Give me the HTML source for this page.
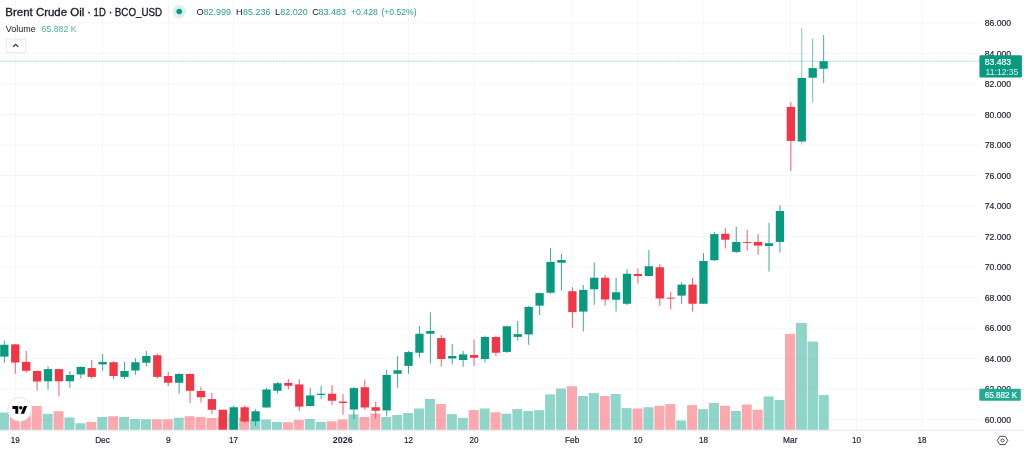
<!DOCTYPE html>
<html lang="en"><head><meta charset="utf-8"><title>Brent Crude Oil · 1D · BCO_USD</title>
<style>
html,body{margin:0;padding:0;background:#ffffff;}
body{width:1024px;height:449px;overflow:hidden;position:relative;font-family:"Liberation Sans",Arial,sans-serif;}
svg text{white-space:pre;}
</style></head><body>
<svg width="1024" height="449" viewBox="0 0 1024 449" style="position:absolute;left:0;top:0">
<defs><clipPath id="pane"><rect x="0" y="0" width="979.4" height="430.0"/></clipPath></defs>
<g stroke="#f6f6f7" stroke-width="1">
<line x1="15.50" y1="0" x2="15.50" y2="430.0"/>
<line x1="102.50" y1="0" x2="102.50" y2="430.0"/>
<line x1="168.60" y1="0" x2="168.60" y2="430.0"/>
<line x1="233.60" y1="0" x2="233.60" y2="430.0"/>
<line x1="343.40" y1="0" x2="343.40" y2="430.0"/>
<line x1="408.40" y1="0" x2="408.40" y2="430.0"/>
<line x1="474.00" y1="0" x2="474.00" y2="430.0"/>
<line x1="572.40" y1="0" x2="572.40" y2="430.0"/>
<line x1="637.80" y1="0" x2="637.80" y2="430.0"/>
<line x1="703.40" y1="0" x2="703.40" y2="430.0"/>
<line x1="790.40" y1="0" x2="790.40" y2="430.0"/>
<line x1="856.50" y1="0" x2="856.50" y2="430.0"/>
<line x1="922.00" y1="0" x2="922.00" y2="430.0"/>
<line x1="0" y1="419.55" x2="979.4" y2="419.55"/>
<line x1="0" y1="389.04" x2="979.4" y2="389.04"/>
<line x1="0" y1="358.53" x2="979.4" y2="358.53"/>
<line x1="0" y1="328.02" x2="979.4" y2="328.02"/>
<line x1="0" y1="297.51" x2="979.4" y2="297.51"/>
<line x1="0" y1="267.00" x2="979.4" y2="267.00"/>
<line x1="0" y1="236.49" x2="979.4" y2="236.49"/>
<line x1="0" y1="205.98" x2="979.4" y2="205.98"/>
<line x1="0" y1="175.47" x2="979.4" y2="175.47"/>
<line x1="0" y1="144.96" x2="979.4" y2="144.96"/>
<line x1="0" y1="114.45" x2="979.4" y2="114.45"/>
<line x1="0" y1="83.94" x2="979.4" y2="83.94"/>
<line x1="0" y1="53.43" x2="979.4" y2="53.43"/>
<line x1="0" y1="22.92" x2="979.4" y2="22.92"/>
</g>
<g clip-path="url(#pane)">
<rect x="-1.07" y="412.50" width="10.00" height="17.50" fill="rgba(34,171,148,0.5)"/>
<rect x="9.85" y="408.00" width="10.00" height="22.00" fill="rgba(247,82,95,0.5)"/>
<rect x="20.78" y="410.00" width="10.00" height="20.00" fill="rgba(247,82,95,0.5)"/>
<rect x="31.70" y="406.00" width="10.00" height="24.00" fill="rgba(247,82,95,0.5)"/>
<rect x="42.63" y="413.75" width="10.00" height="16.25" fill="rgba(34,171,148,0.5)"/>
<rect x="53.55" y="411.25" width="10.00" height="18.75" fill="rgba(247,82,95,0.5)"/>
<rect x="64.47" y="417.50" width="10.00" height="12.50" fill="rgba(34,171,148,0.5)"/>
<rect x="75.40" y="423.25" width="10.00" height="6.75" fill="rgba(34,171,148,0.5)"/>
<rect x="86.32" y="421.90" width="10.00" height="8.10" fill="rgba(247,82,95,0.5)"/>
<rect x="97.25" y="417.00" width="10.00" height="13.00" fill="rgba(34,171,148,0.5)"/>
<rect x="108.17" y="416.25" width="10.00" height="13.75" fill="rgba(247,82,95,0.5)"/>
<rect x="119.09" y="417.00" width="10.00" height="13.00" fill="rgba(34,171,148,0.5)"/>
<rect x="130.02" y="419.00" width="10.00" height="11.00" fill="rgba(34,171,148,0.5)"/>
<rect x="140.94" y="419.25" width="10.00" height="10.75" fill="rgba(34,171,148,0.5)"/>
<rect x="151.87" y="419.25" width="10.00" height="10.75" fill="rgba(247,82,95,0.5)"/>
<rect x="162.79" y="419.25" width="10.00" height="10.75" fill="rgba(247,82,95,0.5)"/>
<rect x="173.71" y="417.75" width="10.00" height="12.25" fill="rgba(34,171,148,0.5)"/>
<rect x="184.64" y="416.25" width="10.00" height="13.75" fill="rgba(247,82,95,0.5)"/>
<rect x="195.56" y="417.00" width="10.00" height="13.00" fill="rgba(247,82,95,0.5)"/>
<rect x="206.49" y="418.10" width="10.00" height="11.90" fill="rgba(247,82,95,0.5)"/>
<rect x="217.41" y="417.50" width="10.00" height="12.50" fill="rgba(247,82,95,0.5)"/>
<rect x="228.33" y="413.75" width="10.00" height="16.25" fill="rgba(34,171,148,0.5)"/>
<rect x="239.26" y="417.50" width="10.00" height="12.50" fill="rgba(247,82,95,0.5)"/>
<rect x="250.18" y="419.10" width="10.00" height="10.90" fill="rgba(34,171,148,0.5)"/>
<rect x="261.11" y="419.40" width="10.00" height="10.60" fill="rgba(34,171,148,0.5)"/>
<rect x="272.03" y="421.90" width="10.00" height="8.10" fill="rgba(34,171,148,0.5)"/>
<rect x="282.95" y="422.25" width="10.00" height="7.75" fill="rgba(247,82,95,0.5)"/>
<rect x="293.88" y="419.75" width="10.00" height="10.25" fill="rgba(247,82,95,0.5)"/>
<rect x="304.80" y="419.00" width="10.00" height="11.00" fill="rgba(34,171,148,0.5)"/>
<rect x="315.73" y="421.90" width="10.00" height="8.10" fill="rgba(34,171,148,0.5)"/>
<rect x="326.65" y="421.25" width="10.00" height="8.75" fill="rgba(247,82,95,0.5)"/>
<rect x="337.57" y="419.40" width="10.00" height="10.60" fill="rgba(247,82,95,0.5)"/>
<rect x="348.50" y="414.25" width="10.00" height="15.75" fill="rgba(34,171,148,0.5)"/>
<rect x="359.42" y="417.00" width="10.00" height="13.00" fill="rgba(247,82,95,0.5)"/>
<rect x="370.35" y="413.50" width="10.00" height="16.50" fill="rgba(247,82,95,0.5)"/>
<rect x="381.27" y="417.00" width="10.00" height="13.00" fill="rgba(34,171,148,0.5)"/>
<rect x="392.19" y="415.00" width="10.00" height="15.00" fill="rgba(34,171,148,0.5)"/>
<rect x="403.12" y="413.00" width="10.00" height="17.00" fill="rgba(34,171,148,0.5)"/>
<rect x="414.04" y="408.50" width="10.00" height="21.50" fill="rgba(34,171,148,0.5)"/>
<rect x="424.97" y="398.90" width="10.00" height="31.10" fill="rgba(34,171,148,0.5)"/>
<rect x="435.89" y="404.00" width="10.00" height="26.00" fill="rgba(247,82,95,0.5)"/>
<rect x="446.81" y="414.10" width="10.00" height="15.90" fill="rgba(34,171,148,0.5)"/>
<rect x="457.74" y="417.90" width="10.00" height="12.10" fill="rgba(34,171,148,0.5)"/>
<rect x="468.66" y="410.00" width="10.00" height="20.00" fill="rgba(247,82,95,0.5)"/>
<rect x="479.59" y="408.50" width="10.00" height="21.50" fill="rgba(34,171,148,0.5)"/>
<rect x="490.51" y="412.25" width="10.00" height="17.75" fill="rgba(247,82,95,0.5)"/>
<rect x="501.43" y="413.75" width="10.00" height="16.25" fill="rgba(34,171,148,0.5)"/>
<rect x="512.36" y="409.10" width="10.00" height="20.90" fill="rgba(34,171,148,0.5)"/>
<rect x="523.28" y="411.00" width="10.00" height="19.00" fill="rgba(34,171,148,0.5)"/>
<rect x="534.21" y="410.10" width="10.00" height="19.90" fill="rgba(34,171,148,0.5)"/>
<rect x="545.13" y="394.40" width="10.00" height="35.60" fill="rgba(34,171,148,0.5)"/>
<rect x="556.05" y="388.50" width="10.00" height="41.50" fill="rgba(34,171,148,0.5)"/>
<rect x="566.98" y="386.25" width="10.00" height="43.75" fill="rgba(247,82,95,0.5)"/>
<rect x="577.90" y="396.00" width="10.00" height="34.00" fill="rgba(34,171,148,0.5)"/>
<rect x="588.83" y="393.10" width="10.00" height="36.90" fill="rgba(34,171,148,0.5)"/>
<rect x="599.75" y="396.00" width="10.00" height="34.00" fill="rgba(247,82,95,0.5)"/>
<rect x="610.67" y="394.00" width="10.00" height="36.00" fill="rgba(34,171,148,0.5)"/>
<rect x="621.60" y="408.10" width="10.00" height="21.90" fill="rgba(34,171,148,0.5)"/>
<rect x="632.52" y="408.50" width="10.00" height="21.50" fill="rgba(247,82,95,0.5)"/>
<rect x="643.45" y="407.25" width="10.00" height="22.75" fill="rgba(34,171,148,0.5)"/>
<rect x="654.37" y="405.75" width="10.00" height="24.25" fill="rgba(247,82,95,0.5)"/>
<rect x="665.29" y="404.10" width="10.00" height="25.90" fill="rgba(247,82,95,0.5)"/>
<rect x="676.22" y="420.40" width="10.00" height="9.60" fill="rgba(34,171,148,0.5)"/>
<rect x="687.14" y="405.10" width="10.00" height="24.90" fill="rgba(247,82,95,0.5)"/>
<rect x="698.07" y="409.10" width="10.00" height="20.90" fill="rgba(34,171,148,0.5)"/>
<rect x="708.99" y="403.00" width="10.00" height="27.00" fill="rgba(34,171,148,0.5)"/>
<rect x="719.91" y="405.75" width="10.00" height="24.25" fill="rgba(247,82,95,0.5)"/>
<rect x="730.84" y="411.00" width="10.00" height="19.00" fill="rgba(34,171,148,0.5)"/>
<rect x="741.76" y="404.50" width="10.00" height="25.50" fill="rgba(247,82,95,0.5)"/>
<rect x="752.69" y="409.75" width="10.00" height="20.25" fill="rgba(247,82,95,0.5)"/>
<rect x="763.61" y="396.40" width="10.00" height="33.60" fill="rgba(34,171,148,0.5)"/>
<rect x="774.53" y="400.00" width="10.00" height="30.00" fill="rgba(34,171,148,0.5)"/>
<rect x="785.00" y="333.90" width="10.25" height="96.10" fill="rgba(247,82,95,0.5)"/>
<rect x="796.00" y="322.90" width="10.90" height="107.10" fill="rgba(34,171,148,0.5)"/>
<rect x="807.50" y="341.60" width="10.50" height="88.40" fill="rgba(34,171,148,0.5)"/>
<rect x="818.75" y="395.00" width="10.00" height="35.00" fill="rgba(34,171,148,0.5)"/>
<rect x="3.83" y="340.50" width="1" height="22.25" fill="#089981" opacity="0.80"/>
<rect x="0.18" y="344.75" width="8.30" height="11.85" fill="#089981"/>
<rect x="14.75" y="344.00" width="1" height="29.75" fill="#f23645" opacity="0.80"/>
<rect x="11.10" y="344.40" width="8.30" height="18.10" fill="#f23645"/>
<rect x="25.68" y="351.00" width="1" height="21.50" fill="#f23645" opacity="0.80"/>
<rect x="22.03" y="361.90" width="8.30" height="8.85" fill="#f23645"/>
<rect x="36.60" y="370.50" width="1" height="20.10" fill="#f23645" opacity="0.80"/>
<rect x="32.95" y="371.00" width="8.30" height="10.50" fill="#f23645"/>
<rect x="47.53" y="366.25" width="1" height="23.50" fill="#089981" opacity="0.80"/>
<rect x="43.88" y="369.10" width="8.30" height="12.15" fill="#089981"/>
<rect x="58.45" y="369.00" width="1" height="27.25" fill="#f23645" opacity="0.80"/>
<rect x="54.80" y="369.10" width="8.30" height="12.15" fill="#f23645"/>
<rect x="69.37" y="371.25" width="1" height="16.50" fill="#089981" opacity="0.80"/>
<rect x="65.72" y="375.00" width="8.30" height="6.25" fill="#089981"/>
<rect x="80.30" y="366.50" width="1" height="12.00" fill="#089981" opacity="0.80"/>
<rect x="76.65" y="366.90" width="8.30" height="7.50" fill="#089981"/>
<rect x="91.22" y="360.00" width="1" height="18.75" fill="#f23645" opacity="0.80"/>
<rect x="87.57" y="368.10" width="8.30" height="8.80" fill="#f23645"/>
<rect x="102.15" y="354.00" width="1" height="16.60" fill="#089981" opacity="0.80"/>
<rect x="98.50" y="361.90" width="8.30" height="2.50" fill="#089981"/>
<rect x="113.07" y="361.25" width="1" height="17.75" fill="#f23645" opacity="0.80"/>
<rect x="109.42" y="362.25" width="8.30" height="13.75" fill="#f23645"/>
<rect x="123.99" y="361.90" width="1" height="17.10" fill="#089981" opacity="0.80"/>
<rect x="120.34" y="371.00" width="8.30" height="5.90" fill="#089981"/>
<rect x="134.92" y="358.10" width="1" height="16.65" fill="#089981" opacity="0.80"/>
<rect x="131.27" y="362.25" width="8.30" height="8.25" fill="#089981"/>
<rect x="145.84" y="351.00" width="1" height="15.50" fill="#089981" opacity="0.80"/>
<rect x="142.19" y="356.00" width="8.30" height="6.75" fill="#089981"/>
<rect x="156.77" y="353.50" width="1" height="25.25" fill="#f23645" opacity="0.80"/>
<rect x="153.12" y="355.25" width="8.30" height="21.65" fill="#f23645"/>
<rect x="167.69" y="372.00" width="1" height="14.00" fill="#f23645" opacity="0.80"/>
<rect x="164.04" y="376.00" width="8.30" height="6.75" fill="#f23645"/>
<rect x="178.61" y="373.25" width="1" height="20.50" fill="#089981" opacity="0.80"/>
<rect x="174.96" y="374.00" width="8.30" height="8.75" fill="#089981"/>
<rect x="189.54" y="373.25" width="1" height="29.85" fill="#f23645" opacity="0.80"/>
<rect x="185.89" y="374.00" width="8.30" height="16.80" fill="#f23645"/>
<rect x="200.46" y="386.90" width="1" height="15.60" fill="#f23645" opacity="0.80"/>
<rect x="196.81" y="391.00" width="8.30" height="6.25" fill="#f23645"/>
<rect x="211.39" y="392.90" width="1" height="21.10" fill="#f23645" opacity="0.80"/>
<rect x="207.74" y="399.10" width="8.30" height="10.65" fill="#f23645"/>
<rect x="222.31" y="409.75" width="1" height="26.25" fill="#f23645" opacity="0.80"/>
<rect x="218.66" y="409.75" width="8.30" height="26.25" fill="#f23645"/>
<rect x="233.23" y="406.00" width="1" height="30.00" fill="#089981" opacity="0.80"/>
<rect x="229.58" y="407.25" width="8.30" height="28.75" fill="#089981"/>
<rect x="244.16" y="405.50" width="1" height="17.25" fill="#f23645" opacity="0.80"/>
<rect x="240.51" y="407.25" width="8.30" height="14.25" fill="#f23645"/>
<rect x="255.08" y="409.10" width="1" height="16.65" fill="#089981" opacity="0.80"/>
<rect x="251.43" y="411.25" width="8.30" height="10.00" fill="#089981"/>
<rect x="266.01" y="387.90" width="1" height="19.60" fill="#089981" opacity="0.80"/>
<rect x="262.36" y="389.50" width="8.30" height="18.00" fill="#089981"/>
<rect x="276.93" y="382.00" width="1" height="11.50" fill="#089981" opacity="0.80"/>
<rect x="273.28" y="383.25" width="8.30" height="7.50" fill="#089981"/>
<rect x="287.85" y="379.10" width="1" height="10.40" fill="#f23645" opacity="0.80"/>
<rect x="284.20" y="382.90" width="8.30" height="2.85" fill="#f23645"/>
<rect x="298.78" y="379.10" width="1" height="31.90" fill="#f23645" opacity="0.80"/>
<rect x="295.13" y="384.40" width="8.30" height="22.20" fill="#f23645"/>
<rect x="309.70" y="387.90" width="1" height="18.60" fill="#089981" opacity="0.80"/>
<rect x="306.05" y="395.40" width="8.30" height="10.60" fill="#089981"/>
<rect x="320.63" y="385.75" width="1" height="13.35" fill="#089981" opacity="0.80"/>
<rect x="316.98" y="393.75" width="8.30" height="1.25" fill="#089981"/>
<rect x="331.55" y="385.00" width="1" height="20.00" fill="#f23645" opacity="0.80"/>
<rect x="327.90" y="393.75" width="8.30" height="7.00" fill="#f23645"/>
<rect x="342.47" y="394.10" width="1" height="20.65" fill="#f23645" opacity="0.80"/>
<rect x="338.82" y="401.60" width="8.30" height="1.40" fill="#f23645"/>
<rect x="353.40" y="387.00" width="1" height="32.10" fill="#089981" opacity="0.80"/>
<rect x="349.75" y="388.10" width="8.30" height="21.40" fill="#089981"/>
<rect x="364.32" y="379.75" width="1" height="30.00" fill="#f23645" opacity="0.80"/>
<rect x="360.67" y="387.25" width="8.30" height="20.25" fill="#f23645"/>
<rect x="375.25" y="401.60" width="1" height="16.90" fill="#f23645" opacity="0.80"/>
<rect x="371.60" y="407.25" width="8.30" height="3.50" fill="#f23645"/>
<rect x="386.17" y="369.75" width="1" height="46.50" fill="#089981" opacity="0.80"/>
<rect x="382.52" y="375.00" width="8.30" height="35.40" fill="#089981"/>
<rect x="397.09" y="356.00" width="1" height="31.75" fill="#089981" opacity="0.80"/>
<rect x="393.44" y="370.25" width="8.30" height="3.50" fill="#089981"/>
<rect x="408.02" y="351.00" width="1" height="22.75" fill="#089981" opacity="0.80"/>
<rect x="404.37" y="352.10" width="8.30" height="13.80" fill="#089981"/>
<rect x="418.94" y="326.25" width="1" height="31.25" fill="#089981" opacity="0.80"/>
<rect x="415.29" y="333.75" width="8.30" height="19.00" fill="#089981"/>
<rect x="429.87" y="312.25" width="1" height="51.25" fill="#089981" opacity="0.80"/>
<rect x="426.22" y="331.00" width="8.30" height="2.75" fill="#089981"/>
<rect x="440.79" y="335.25" width="1" height="31.25" fill="#f23645" opacity="0.80"/>
<rect x="437.14" y="338.10" width="8.30" height="20.90" fill="#f23645"/>
<rect x="451.71" y="344.00" width="1" height="20.40" fill="#089981" opacity="0.80"/>
<rect x="448.06" y="356.00" width="8.30" height="2.50" fill="#089981"/>
<rect x="462.64" y="351.00" width="1" height="15.90" fill="#089981" opacity="0.80"/>
<rect x="458.99" y="354.40" width="8.30" height="5.60" fill="#089981"/>
<rect x="473.56" y="339.40" width="1" height="26.50" fill="#f23645" opacity="0.80"/>
<rect x="469.91" y="355.00" width="8.30" height="2.75" fill="#f23645"/>
<rect x="484.49" y="335.60" width="1" height="26.90" fill="#089981" opacity="0.80"/>
<rect x="480.84" y="337.00" width="8.30" height="22.00" fill="#089981"/>
<rect x="495.41" y="335.60" width="1" height="20.40" fill="#f23645" opacity="0.80"/>
<rect x="491.76" y="337.00" width="8.30" height="15.75" fill="#f23645"/>
<rect x="506.33" y="325.60" width="1" height="27.15" fill="#089981" opacity="0.80"/>
<rect x="502.68" y="326.25" width="8.30" height="25.65" fill="#089981"/>
<rect x="517.26" y="321.00" width="1" height="19.60" fill="#089981" opacity="0.80"/>
<rect x="513.61" y="334.10" width="8.30" height="2.80" fill="#089981"/>
<rect x="528.18" y="306.00" width="1" height="38.75" fill="#089981" opacity="0.80"/>
<rect x="524.53" y="306.90" width="8.30" height="27.50" fill="#089981"/>
<rect x="539.11" y="292.50" width="1" height="22.50" fill="#089981" opacity="0.80"/>
<rect x="535.46" y="293.10" width="8.30" height="12.50" fill="#089981"/>
<rect x="550.03" y="248.00" width="1" height="45.75" fill="#089981" opacity="0.80"/>
<rect x="546.38" y="261.90" width="8.30" height="30.85" fill="#089981"/>
<rect x="560.95" y="253.75" width="1" height="36.75" fill="#089981" opacity="0.80"/>
<rect x="557.30" y="260.00" width="8.30" height="2.75" fill="#089981"/>
<rect x="571.88" y="287.10" width="1" height="40.65" fill="#f23645" opacity="0.80"/>
<rect x="568.23" y="291.25" width="8.30" height="20.85" fill="#f23645"/>
<rect x="582.80" y="285.00" width="1" height="46.50" fill="#089981" opacity="0.80"/>
<rect x="579.15" y="289.90" width="8.30" height="21.70" fill="#089981"/>
<rect x="593.73" y="262.40" width="1" height="42.35" fill="#089981" opacity="0.80"/>
<rect x="590.08" y="277.75" width="8.30" height="11.50" fill="#089981"/>
<rect x="604.65" y="275.00" width="1" height="30.60" fill="#f23645" opacity="0.80"/>
<rect x="601.00" y="277.75" width="8.30" height="21.75" fill="#f23645"/>
<rect x="615.57" y="277.75" width="1" height="33.75" fill="#089981" opacity="0.80"/>
<rect x="611.92" y="292.25" width="8.30" height="7.50" fill="#089981"/>
<rect x="626.50" y="269.00" width="1" height="36.25" fill="#089981" opacity="0.80"/>
<rect x="622.85" y="273.75" width="8.30" height="30.00" fill="#089981"/>
<rect x="637.42" y="268.50" width="1" height="15.00" fill="#f23645" opacity="0.80"/>
<rect x="633.77" y="274.00" width="8.30" height="2.00" fill="#f23645"/>
<rect x="648.35" y="250.00" width="1" height="26.00" fill="#089981" opacity="0.80"/>
<rect x="644.70" y="266.25" width="8.30" height="9.75" fill="#089981"/>
<rect x="659.27" y="264.00" width="1" height="42.00" fill="#f23645" opacity="0.80"/>
<rect x="655.62" y="267.25" width="8.30" height="31.25" fill="#f23645"/>
<rect x="670.19" y="292.00" width="1" height="17.40" fill="#f23645" opacity="0.80"/>
<rect x="666.54" y="297.70" width="8.30" height="0.90" fill="#f23645"/>
<rect x="681.12" y="282.25" width="1" height="21.50" fill="#089981" opacity="0.80"/>
<rect x="677.47" y="284.60" width="8.30" height="11.00" fill="#089981"/>
<rect x="692.04" y="277.75" width="1" height="33.75" fill="#f23645" opacity="0.80"/>
<rect x="688.39" y="284.60" width="8.30" height="19.15" fill="#f23645"/>
<rect x="702.97" y="253.10" width="1" height="50.65" fill="#089981" opacity="0.80"/>
<rect x="699.32" y="261.00" width="8.30" height="42.75" fill="#089981"/>
<rect x="713.89" y="231.90" width="1" height="29.10" fill="#089981" opacity="0.80"/>
<rect x="710.24" y="234.10" width="8.30" height="26.15" fill="#089981"/>
<rect x="724.81" y="228.30" width="1" height="20.20" fill="#f23645" opacity="0.80"/>
<rect x="721.16" y="233.75" width="8.30" height="6.00" fill="#f23645"/>
<rect x="735.74" y="226.60" width="1" height="26.50" fill="#089981" opacity="0.80"/>
<rect x="732.09" y="241.90" width="8.30" height="10.00" fill="#089981"/>
<rect x="746.66" y="229.75" width="1" height="20.95" fill="#f23645" opacity="0.80"/>
<rect x="743.01" y="242.05" width="8.30" height="0.90" fill="#f23645"/>
<rect x="757.59" y="234.10" width="1" height="20.65" fill="#f23645" opacity="0.80"/>
<rect x="753.94" y="241.90" width="8.30" height="3.70" fill="#f23645"/>
<rect x="768.51" y="222.90" width="1" height="48.70" fill="#089981" opacity="0.80"/>
<rect x="764.86" y="243.20" width="8.30" height="2.80" fill="#089981"/>
<rect x="779.43" y="205.00" width="1" height="47.50" fill="#089981" opacity="0.80"/>
<rect x="775.78" y="211.00" width="8.30" height="30.90" fill="#089981"/>
<rect x="790.36" y="102.00" width="1" height="69.00" fill="#f23645" opacity="0.80"/>
<rect x="786.71" y="106.90" width="8.30" height="34.00" fill="#f23645"/>
<rect x="801.28" y="28.10" width="1" height="116.30" fill="#089981" opacity="0.50"/>
<rect x="797.63" y="77.90" width="8.30" height="63.60" fill="#089981"/>
<rect x="812.21" y="38.40" width="1" height="64.35" fill="#089981" opacity="0.62"/>
<rect x="808.56" y="68.10" width="8.30" height="9.65" fill="#089981"/>
<rect x="823.13" y="35.00" width="1" height="48.10" fill="#089981" opacity="0.75"/>
<rect x="819.48" y="61.25" width="8.30" height="7.50" fill="#089981"/>
</g>
<line x1="0" y1="61.2" x2="979.4" y2="61.2" stroke="#089981" stroke-width="0.9" stroke-dasharray="0.8,0.75" opacity="0.55"/>
<rect x="0" y="429.7" width="1024" height="1.2" fill="#e9ecf3"/>
<g font-family="Liberation Sans, Arial, sans-serif">
<text x="984.70" y="423.00" font-size="9.60" fill="#1d1f36" textLength="26.40" lengthAdjust="spacingAndGlyphs" stroke="#1d1f36" stroke-width="0.2">60.000</text>
<text x="984.70" y="392.49" font-size="9.60" fill="#1d1f36" textLength="26.40" lengthAdjust="spacingAndGlyphs" stroke="#1d1f36" stroke-width="0.2">62.000</text>
<text x="984.70" y="361.98" font-size="9.60" fill="#1d1f36" textLength="26.40" lengthAdjust="spacingAndGlyphs" stroke="#1d1f36" stroke-width="0.2">64.000</text>
<text x="984.70" y="331.47" font-size="9.60" fill="#1d1f36" textLength="26.40" lengthAdjust="spacingAndGlyphs" stroke="#1d1f36" stroke-width="0.2">66.000</text>
<text x="984.70" y="300.96" font-size="9.60" fill="#1d1f36" textLength="26.40" lengthAdjust="spacingAndGlyphs" stroke="#1d1f36" stroke-width="0.2">68.000</text>
<text x="984.70" y="270.45" font-size="9.60" fill="#1d1f36" textLength="26.40" lengthAdjust="spacingAndGlyphs" stroke="#1d1f36" stroke-width="0.2">70.000</text>
<text x="984.70" y="239.94" font-size="9.60" fill="#1d1f36" textLength="26.40" lengthAdjust="spacingAndGlyphs" stroke="#1d1f36" stroke-width="0.2">72.000</text>
<text x="984.70" y="209.43" font-size="9.60" fill="#1d1f36" textLength="26.40" lengthAdjust="spacingAndGlyphs" stroke="#1d1f36" stroke-width="0.2">74.000</text>
<text x="984.70" y="178.92" font-size="9.60" fill="#1d1f36" textLength="26.40" lengthAdjust="spacingAndGlyphs" stroke="#1d1f36" stroke-width="0.2">76.000</text>
<text x="984.70" y="148.41" font-size="9.60" fill="#1d1f36" textLength="26.40" lengthAdjust="spacingAndGlyphs" stroke="#1d1f36" stroke-width="0.2">78.000</text>
<text x="984.70" y="117.90" font-size="9.60" fill="#1d1f36" textLength="26.40" lengthAdjust="spacingAndGlyphs" stroke="#1d1f36" stroke-width="0.2">80.000</text>
<text x="984.70" y="87.39" font-size="9.60" fill="#1d1f36" textLength="26.40" lengthAdjust="spacingAndGlyphs" stroke="#1d1f36" stroke-width="0.2">82.000</text>
<text x="984.70" y="56.88" font-size="9.60" fill="#1d1f36" textLength="26.40" lengthAdjust="spacingAndGlyphs" stroke="#1d1f36" stroke-width="0.2">84.000</text>
<text x="984.70" y="26.37" font-size="9.60" fill="#1d1f36" textLength="26.40" lengthAdjust="spacingAndGlyphs" stroke="#1d1f36" stroke-width="0.2">86.000</text>
<rect x="979.4" y="55.3" width="42.5" height="22.2" rx="1.3" fill="#089981"/>
<text x="984.70" y="64.50" font-size="9.60" fill="#ffffff" textLength="26.40" lengthAdjust="spacingAndGlyphs" stroke="#ffffff" stroke-width="0.15">83.483</text>
<text x="985.60" y="75.10" font-size="9.60" fill="#ffffff" textLength="32.80" lengthAdjust="spacingAndGlyphs" opacity="0.85">11:12:35</text>
<rect x="979.3" y="388.8" width="41.5" height="11.9" rx="0.9" fill="#22ab94"/>
<text x="984.70" y="398.00" font-size="9.60" fill="#ffffff" textLength="32.60" lengthAdjust="spacingAndGlyphs" stroke="#ffffff" stroke-width="0.15">65.882 K</text>
<text x="10.80" y="443.40" font-size="9.40" fill="#1d1f36" textLength="9.00" lengthAdjust="spacingAndGlyphs" stroke="#1d1f36" stroke-width="0.2">19</text>
<text x="95.15" y="443.40" font-size="9.40" fill="#1d1f36" textLength="14.70" lengthAdjust="spacingAndGlyphs" stroke="#1d1f36" stroke-width="0.2">Dec</text>
<text x="166.05" y="443.40" font-size="9.40" fill="#1d1f36" textLength="4.70" lengthAdjust="spacingAndGlyphs" stroke="#1d1f36" stroke-width="0.2">9</text>
<text x="229.10" y="443.40" font-size="9.40" fill="#1d1f36" textLength="9.00" lengthAdjust="spacingAndGlyphs" stroke="#1d1f36" stroke-width="0.2">17</text>
<text x="332.75" y="443.40" font-size="9.40" fill="#1d1f36" textLength="19.90" lengthAdjust="spacingAndGlyphs" font-weight="bold" >2026</text>
<text x="403.90" y="443.40" font-size="9.40" fill="#1d1f36" textLength="9.00" lengthAdjust="spacingAndGlyphs" stroke="#1d1f36" stroke-width="0.2">12</text>
<text x="469.40" y="443.40" font-size="9.40" fill="#1d1f36" textLength="9.00" lengthAdjust="spacingAndGlyphs" stroke="#1d1f36" stroke-width="0.2">20</text>
<text x="565.00" y="443.40" font-size="9.40" fill="#1d1f36" textLength="14.40" lengthAdjust="spacingAndGlyphs" stroke="#1d1f36" stroke-width="0.2">Feb</text>
<text x="633.60" y="443.40" font-size="9.40" fill="#1d1f36" textLength="9.00" lengthAdjust="spacingAndGlyphs" stroke="#1d1f36" stroke-width="0.2">10</text>
<text x="698.90" y="443.40" font-size="9.40" fill="#1d1f36" textLength="9.00" lengthAdjust="spacingAndGlyphs" stroke="#1d1f36" stroke-width="0.2">18</text>
<text x="783.10" y="443.40" font-size="9.40" fill="#1d1f36" textLength="14.40" lengthAdjust="spacingAndGlyphs" stroke="#1d1f36" stroke-width="0.2">Mar</text>
<text x="851.90" y="443.40" font-size="9.40" fill="#1d1f36" textLength="9.00" lengthAdjust="spacingAndGlyphs" stroke="#1d1f36" stroke-width="0.2">10</text>
<text x="917.50" y="443.40" font-size="9.40" fill="#1d1f36" textLength="9.00" lengthAdjust="spacingAndGlyphs" stroke="#1d1f36" stroke-width="0.2">18</text>
<text x="5.30" y="16.00" font-size="10.70" fill="#131722" textLength="79.00" lengthAdjust="spacingAndGlyphs" stroke="#131722" stroke-width="0.3">Brent Crude Oil</text>
<text x="89.00" y="16.00" font-size="10.70" fill="#131722" text-anchor="middle" stroke="#131722" stroke-width="0.3">·</text>
<text x="93.60" y="16.00" font-size="10.70" fill="#131722" textLength="12.20" lengthAdjust="spacingAndGlyphs" stroke="#131722" stroke-width="0.3">1D</text>
<text x="110.60" y="16.00" font-size="10.70" fill="#131722" text-anchor="middle" stroke="#131722" stroke-width="0.3">·</text>
<text x="114.80" y="16.00" font-size="10.70" fill="#131722" textLength="47.40" lengthAdjust="spacingAndGlyphs" stroke="#131722" stroke-width="0.3">BCO_USD</text>
<text x="196.60" y="15.00" font-size="9.20" fill="#131722" >O</text>
<text x="203.50" y="15.00" font-size="9.20" fill="#2ba08c" textLength="27.50" lengthAdjust="spacingAndGlyphs" >82.999</text>
<text x="236.00" y="15.00" font-size="9.20" fill="#131722" >H</text>
<text x="243.00" y="15.00" font-size="9.20" fill="#2ba08c" textLength="27.50" lengthAdjust="spacingAndGlyphs" >85.236</text>
<text x="275.00" y="15.00" font-size="9.20" fill="#131722" >L</text>
<text x="280.20" y="15.00" font-size="9.20" fill="#2ba08c" textLength="27.50" lengthAdjust="spacingAndGlyphs" >82.020</text>
<text x="312.20" y="15.00" font-size="9.20" fill="#131722" >C</text>
<text x="318.50" y="15.00" font-size="9.20" fill="#2ba08c" textLength="27.50" lengthAdjust="spacingAndGlyphs" >83.483</text>
<text x="350.90" y="15.00" font-size="9.20" fill="#2ba08c" textLength="27.00" lengthAdjust="spacingAndGlyphs" >+0.428</text>
<text x="381.40" y="15.00" font-size="9.20" fill="#2ba08c" textLength="35.20" lengthAdjust="spacingAndGlyphs" >(+0.52%)</text>
<text x="5.80" y="31.90" font-size="9.20" fill="#131722" textLength="30.00" lengthAdjust="spacingAndGlyphs" >Volume</text>
<text x="41.60" y="31.90" font-size="9.20" fill="#48b5a2" textLength="35.00" lengthAdjust="spacingAndGlyphs" >65.882 K</text>
</g>
<circle cx="179.25" cy="11.5" r="6.6" fill="#089981" opacity="0.15"/>
<circle cx="179.25" cy="11.5" r="2.8" fill="#089981"/>
<rect x="6.2" y="39.2" width="19.7" height="13.5" rx="2.2" fill="#ffffff" stroke="#e6e9f0" stroke-width="1"/>
<path d="M13.1 46.9 L15.7 44.4 L18.3 46.9" fill="none" stroke="#2a2e39" stroke-width="1.25"/>
<circle cx="19.7" cy="409.3" r="11.85" fill="#ffffff" stroke="#e2e5ee" stroke-width="1"/>
<g transform="translate(12.4,404.43) scale(0.418)" fill="#000000"><path d="M14 22H7V11H0V4h14v18zM28 22h-8l7.500-18h8L28 22z"/><circle cx="20" cy="8" r="4"/></g>
<g fill="none" stroke="#44464e" stroke-width="0.95"><path d="M997.2 440.4 L999.8 436.3 L1005.2 436.3 L1007.8 440.4 L1005.2 444.5 L999.8 444.5 Z" stroke-linejoin="round"/><circle cx="1002.5" cy="440.4" r="1.55"/></g>
</svg>
</body></html>
